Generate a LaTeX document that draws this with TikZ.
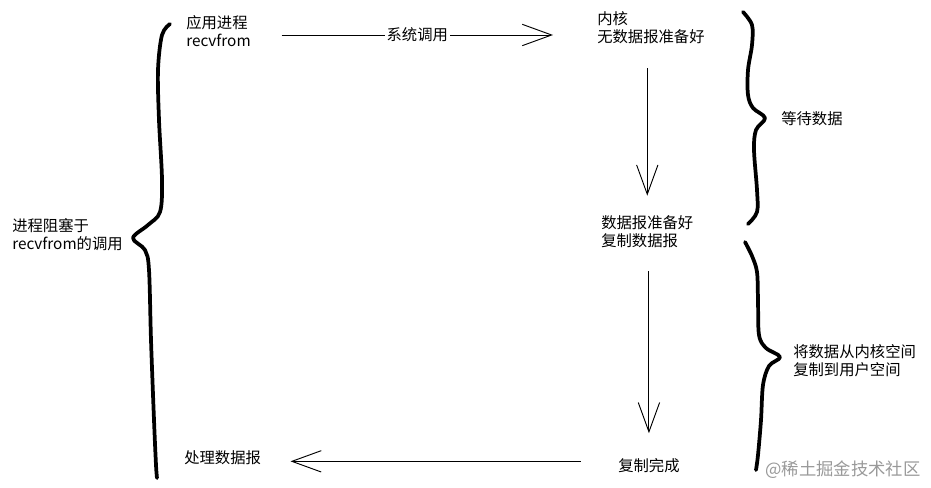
\documentclass[tikz,border=0pt]{standalone}
\usepackage{fontspec}
\setmainfont{Noto Sans CJK SC}
\usetikzlibrary{arrows.meta}
\tikzset{
  txt/.style={inner sep=0pt,anchor=west,align=left,font=\fontsize{11.5}{13.5}\selectfont},
  arr/.style={line width=0.7pt,-{Straight Barb[length=22pt,width=16pt]}},
  brace/.style={line width=2.8pt,line cap=round,line join=round}
}
\begin{document}
\begin{tikzpicture}[x=0.75pt,y=-0.75pt]
\useasboundingbox (0,0) rectangle (931,488);
% texts
\node[txt] (app) at (186,31) {应用进程\\recvfrom};
\node[txt] (kern) at (597,28) {内核\\无数据报准备好};
\node[txt] (ready) at (601,232) {数据报准备好\\复制数据报};
\node[txt] (done) at (618,466) {复制完成};
\node[txt] (proc) at (184,458) {处理数据报};
\node[txt] (wait) at (781,119) {等待数据};
\node[txt] (copy) at (793,361) {将数据从内核空间\\复制到用户空间};
\node[txt] (block) at (12,235) {进程阻塞于\\recvfrom的调用};
\node[txt,font=\fontsize{13}{15}\selectfont,text=black!40] (mark) at (765,470) {@稀土掘金技术社区};
% arrows
\draw[arr] ([xshift=23pt,yshift=-3pt]app.east) -- node[fill=white,inner sep=1.5pt,font=\fontsize{11.5}{13.5}\selectfont]{系统调用} ([xshift=-33pt,yshift=-3pt]app.east -| kern.west);
\draw[arr] ([yshift=-18pt]kern.south -| ready.north) -- ([yshift=15pt]ready.north);
\draw[arr] ([yshift=-17pt]ready.south -| done.north) -- ([yshift=19pt]done.north);
\draw[arr] ([xshift=-28pt,yshift=3.5pt]done.west) -- ([xshift=22pt,yshift=3.5pt]done.west -| proc.east);
% braces
\draw[brace] plot[smooth,tension=0.55] coordinates {(170,24) (162,35) (158,70) (159,120) (162,180) (160,212) (148,225) (133,238) (145,250) (149,270) (151,340) (154,420) (156,465) (157,478)};
\draw[brace] plot[smooth,tension=0.55] coordinates {(743,12) (752,25) (752,45) (748,70) (748,95) (753,108) (765,118) (756,130) (754,150) (757,190) (757,212) (748,224)};
\draw[brace] plot[smooth,tension=0.55] coordinates {(745,242) (752,256) (757,272) (758,300) (759,335) (766,348) (780,357) (769,366) (763,385) (761,420) (758,455) (756,470)};
\end{tikzpicture}
\end{document}
